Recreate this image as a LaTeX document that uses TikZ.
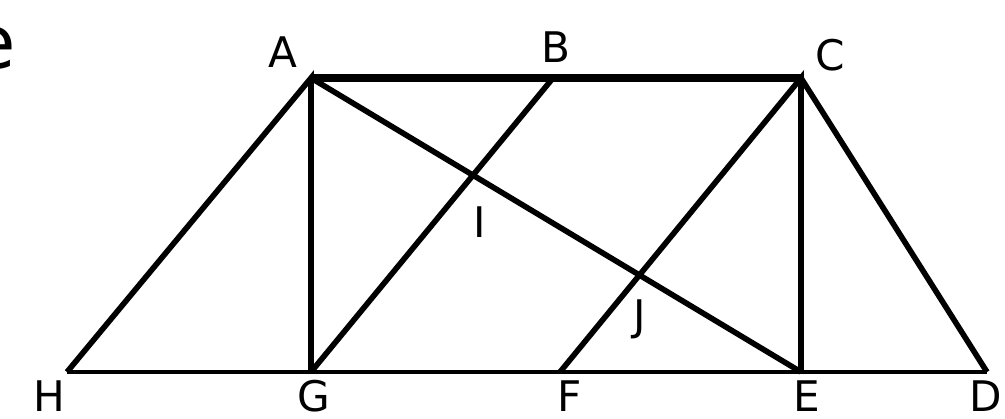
\documentclass[tikz,border=0pt]{standalone}
\usepackage{fontspec}
\setmainfont{DejaVu Sans}
\usepackage{tikz}

\begin{document}
\begin{tikzpicture}[lbl/.style={inner sep=0pt,font=\fontsize{12}{14}\selectfont},
    seg/.style={line width=1.6pt}]
  \useasboundingbox (0,0) rectangle (10.05,4.18);
  \coordinate (A) at (3.11,3.40);
  \coordinate (B) at (5.53,3.40);
  \coordinate (C) at (8.01,3.40);
  \coordinate (H) at (0.67,0.46);
  \coordinate (G) at (3.11,0.46);
  \coordinate (F) at (5.60,0.46);
  \coordinate (E) at (8.01,0.46);
  \coordinate (D) at (9.87,0.46);
  \draw[line width=0.9pt] (H) -- (D);
  \draw[line width=2.2pt] (A) -- (C);
  \draw[seg] (H) -- (A) -- (G);
  \draw[seg] (A) -- (E);
  \draw[seg] (G) -- (B);
  \draw[seg] (F) -- (C) -- (E);
  \draw[seg] (C) -- (D);
  \node[lbl] (lA) at (2.83,3.66) {A};
  \node[lbl] (lB) at (5.56,3.71) {B};
  \node[lbl] (lC) at (8.30,3.63) {C};
  \node[lbl] (lH) at (0.49,0.22) {H};
  \node[lbl] (lG) at (3.14,0.22) {G};
  \node[lbl] (lF) at (5.70,0.22) {F};
  \node[lbl] (lE) at (8.07,0.22) {E};
  \node[lbl] (lD) at (9.86,0.22) {D};
  \node[lbl] (lI) at (4.80,1.96) {I};
  \node[lbl] (lJ) at (6.40,0.99) {J};
  \node[inner sep=0pt,anchor=base east,font=\fontsize{21}{24}\selectfont] (word) at (0.17,3.50) {e};
\end{tikzpicture}
\end{document}
